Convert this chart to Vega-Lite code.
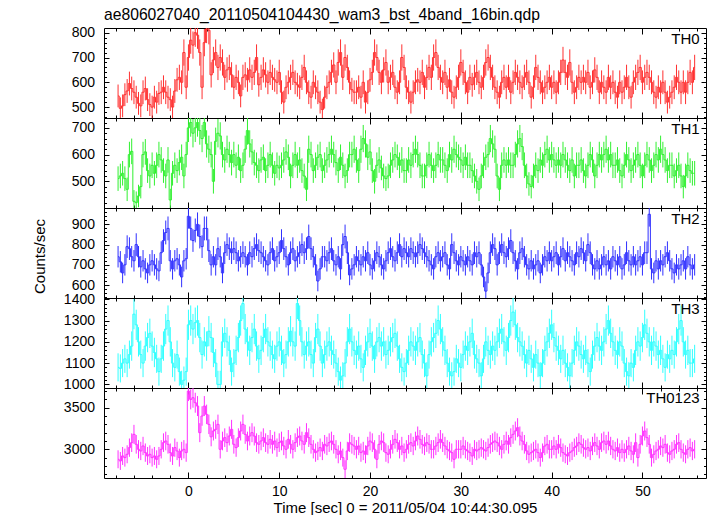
{
"$schema": "https://vega.github.io/schema/vega-lite/v6.json",
"background": "white",
"padding": {"left": 32, "top": 7, "right": 5, "bottom": 0},
"title": {"text": "ae806027040_20110504104430_wam3_bst_4band_16bin.qdp", "anchor": "start", "frame": "group", "fontSize": 15.7, "font": "Liberation Sans", "fontWeight": "normal", "baseline": "alphabetic", "offset": -10, "color": "black"},
"data": {"values": [
{"t":-7.75,"a":545,"ea":46,"b":510,"eb":46,"c":740,"ec":53,"d":1080,"ed":66,"s":2880,"es":108},
{"t":-7.5,"a":495,"ea":44,"b":520,"eb":46,"c":715,"ec":53,"d":1075,"ed":66,"s":2860,"es":108},
{"t":-7.25,"a":505,"ea":46,"b":530,"eb":46,"c":660,"ec":51,"d":1100,"ed":66,"s":2920,"es":108},
{"t":-7,"a":550,"ea":46,"b":510,"eb":46,"c":700,"ec":53,"d":1120,"ed":66,"s":2900,"es":108},
{"t":-6.75,"a":565,"ea":48,"b":470,"eb":44,"c":790,"ec":56,"d":1100,"ed":66,"s":2940,"es":108},
{"t":-6.5,"a":595,"ea":48,"b":600,"eb":48,"c":780,"ec":56,"d":1140,"ed":66,"s":3020,"es":110},
{"t":-6.25,"a":575,"ea":48,"b":612,"eb":48,"c":740,"ec":53,"d":1180,"ed":69,"s":3080,"es":112},
{"t":-6,"a":560,"ea":48,"b":425,"eb":42,"c":720,"ec":53,"d":1330,"ed":71,"s":3180,"es":114},
{"t":-5.75,"a":540,"ea":46,"b":420,"eb":42,"c":800,"ec":56,"d":1280,"ed":71,"s":3060,"es":112},
{"t":-5.5,"a":515,"ea":46,"b":445,"eb":42,"c":740,"ec":53,"d":1200,"ed":69,"s":3000,"es":110},
{"t":-5.25,"a":505,"ea":46,"b":480,"eb":44,"c":690,"ec":53,"d":1140,"ed":66,"s":2980,"es":110},
{"t":-5,"a":560,"ea":48,"b":600,"eb":48,"c":720,"ec":53,"d":1100,"ed":66,"s":3040,"es":110},
{"t":-4.75,"a":575,"ea":48,"b":610,"eb":48,"c":680,"ec":53,"d":1180,"ed":69,"s":2960,"es":110},
{"t":-4.5,"a":530,"ea":46,"b":540,"eb":46,"c":660,"ec":51,"d":1220,"ed":69,"s":2920,"es":108},
{"t":-4.25,"a":510,"ea":46,"b":520,"eb":46,"c":700,"ec":53,"d":1240,"ed":69,"s":2940,"es":108},
{"t":-4,"a":500,"ea":46,"b":560,"eb":48,"c":720,"ec":53,"d":1180,"ed":69,"s":2900,"es":108},
{"t":-3.75,"a":540,"ea":46,"b":530,"eb":46,"c":700,"ec":53,"d":1150,"ed":69,"s":2920,"es":108},
{"t":-3.5,"a":520,"ea":46,"b":560,"eb":48,"c":680,"ec":53,"d":1120,"ed":66,"s":2880,"es":108},
{"t":-3.25,"a":555,"ea":46,"b":600,"eb":48,"c":670,"ec":51,"d":1060,"ed":66,"s":2920,"es":108},
{"t":-3,"a":560,"ea":48,"b":580,"eb":48,"c":760,"ec":56,"d":1120,"ed":66,"s":3000,"es":110},
{"t":-2.75,"a":580,"ea":48,"b":540,"eb":46,"c":820,"ec":56,"d":1180,"ed":69,"s":3080,"es":112},
{"t":-2.5,"a":560,"ea":48,"b":520,"eb":46,"c":860,"ec":59,"d":1260,"ed":71,"s":3100,"es":112},
{"t":-2.25,"a":540,"ea":46,"b":580,"eb":48,"c":880,"ec":59,"d":1300,"ed":71,"s":3060,"es":112},
{"t":-2,"a":530,"ea":46,"b":430,"eb":42,"c":720,"ec":53,"d":1200,"ed":69,"s":2960,"es":110},
{"t":-1.75,"a":500,"ea":46,"b":530,"eb":46,"c":680,"ec":53,"d":1100,"ed":66,"s":2920,"es":108},
{"t":-1.5,"a":565,"ea":48,"b":560,"eb":48,"c":720,"ec":53,"d":1080,"ed":66,"s":3020,"es":110},
{"t":-1.25,"a":610,"ea":48,"b":540,"eb":46,"c":730,"ec":53,"d":1140,"ed":66,"s":2980,"es":110},
{"t":-1,"a":620,"ea":51,"b":570,"eb":48,"c":700,"ec":53,"d":1060,"ed":66,"s":2900,"es":108},
{"t":-0.75,"a":600,"ea":48,"b":590,"eb":48,"c":640,"ec":51,"d":1000,"ed":64,"s":2980,"es":110},
{"t":-0.5,"a":720,"ea":53,"b":520,"eb":46,"c":720,"ec":53,"d":1020,"ed":64,"s":3000,"es":110},
{"t":-0.25,"a":580,"ea":48,"b":600,"eb":48,"c":730,"ec":53,"d":1060,"ed":66,"s":2960,"es":110},
{"t":0,"a":700,"ea":53,"b":700,"eb":53,"c":940,"ec":61,"d":1280,"ed":71,"s":3700,"es":120},
{"t":0.25,"a":770,"ea":55,"b":720,"eb":53,"c":880,"ec":59,"d":1300,"ed":71,"s":3600,"es":120},
{"t":0.5,"a":750,"ea":55,"b":680,"eb":53,"c":820,"ec":56,"d":1260,"ed":71,"s":3620,"es":120},
{"t":0.75,"a":800,"ea":57,"b":700,"eb":53,"c":870,"ec":59,"d":1290,"ed":71,"s":3560,"es":120},
{"t":1,"a":790,"ea":55,"b":720,"eb":53,"c":900,"ec":59,"d":1300,"ed":71,"s":3520,"es":120},
{"t":1.25,"a":720,"ea":53,"b":690,"eb":53,"c":840,"ec":59,"d":1220,"ed":69,"s":3200,"es":114},
{"t":1.5,"a":580,"ea":48,"b":660,"eb":51,"c":790,"ec":56,"d":1140,"ed":66,"s":3400,"es":117},
{"t":1.75,"a":760,"ea":55,"b":720,"eb":53,"c":880,"ec":59,"d":1200,"ed":69,"s":3520,"es":120},
{"t":2,"a":815,"ea":57,"b":640,"eb":51,"c":880,"ec":59,"d":1180,"ed":69,"s":3420,"es":117},
{"t":2.25,"a":810,"ea":57,"b":620,"eb":51,"c":770,"ec":56,"d":1250,"ed":71,"s":3300,"es":117},
{"t":2.5,"a":630,"ea":51,"b":600,"eb":48,"c":700,"ec":53,"d":1220,"ed":69,"s":3150,"es":114},
{"t":2.75,"a":690,"ea":53,"b":500,"eb":46,"c":740,"ec":53,"d":1150,"ed":69,"s":3220,"es":114},
{"t":3,"a":720,"ea":53,"b":650,"eb":51,"c":700,"ec":53,"d":1100,"ed":66,"s":3240,"es":114},
{"t":3.25,"a":660,"ea":51,"b":680,"eb":53,"c":780,"ec":56,"d":1000,"ed":64,"s":3300,"es":117},
{"t":3.5,"a":700,"ea":53,"b":670,"eb":51,"c":740,"ec":53,"d":1000,"ed":64,"s":3000,"es":110},
{"t":3.75,"a":680,"ea":53,"b":600,"eb":48,"c":660,"ec":51,"d":1200,"ed":69,"s":3100,"es":112},
{"t":4,"a":620,"ea":51,"b":580,"eb":48,"c":760,"ec":56,"d":1240,"ed":69,"s":3140,"es":112},
{"t":4.25,"a":650,"ea":51,"b":620,"eb":51,"c":800,"ec":56,"d":1200,"ed":69,"s":3080,"es":112},
{"t":4.5,"a":660,"ea":51,"b":600,"eb":48,"c":780,"ec":56,"d":1160,"ed":69,"s":3160,"es":114},
{"t":4.75,"a":630,"ea":51,"b":570,"eb":48,"c":760,"ec":56,"d":1060,"ed":66,"s":3240,"es":114},
{"t":5,"a":580,"ea":48,"b":600,"eb":48,"c":780,"ec":56,"d":1100,"ed":66,"s":3060,"es":112},
{"t":5.25,"a":620,"ea":51,"b":560,"eb":48,"c":760,"ec":56,"d":1160,"ed":69,"s":3020,"es":110},
{"t":5.5,"a":600,"ea":48,"b":590,"eb":48,"c":720,"ec":53,"d":1220,"ed":69,"s":3140,"es":112},
{"t":5.75,"a":545,"ea":46,"b":540,"eb":46,"c":740,"ec":53,"d":1300,"ed":71,"s":3220,"es":114},
{"t":6,"a":620,"ea":51,"b":560,"eb":48,"c":760,"ec":56,"d":1380,"ed":73,"s":3300,"es":117},
{"t":6.25,"a":630,"ea":51,"b":620,"eb":51,"c":740,"ec":53,"d":1260,"ed":71,"s":3180,"es":114},
{"t":6.5,"a":610,"ea":48,"b":690,"eb":53,"c":700,"ec":53,"d":1200,"ed":69,"s":3100,"es":112},
{"t":6.75,"a":650,"ea":51,"b":640,"eb":51,"c":760,"ec":56,"d":1160,"ed":69,"s":3160,"es":114},
{"t":7,"a":620,"ea":51,"b":610,"eb":48,"c":740,"ec":53,"d":1220,"ed":69,"s":3200,"es":114},
{"t":7.25,"a":640,"ea":51,"b":570,"eb":48,"c":780,"ec":56,"d":1260,"ed":71,"s":3160,"es":114},
{"t":7.5,"a":700,"ea":53,"b":560,"eb":48,"c":800,"ec":56,"d":1180,"ed":69,"s":3080,"es":112},
{"t":7.75,"a":590,"ea":48,"b":540,"eb":46,"c":770,"ec":56,"d":1120,"ed":66,"s":3060,"es":112},
{"t":8,"a":620,"ea":51,"b":580,"eb":48,"c":760,"ec":56,"d":1160,"ed":69,"s":3100,"es":112},
{"t":8.25,"a":650,"ea":51,"b":590,"eb":48,"c":740,"ec":53,"d":1220,"ed":69,"s":3140,"es":112},
{"t":8.5,"a":630,"ea":51,"b":540,"eb":46,"c":720,"ec":53,"d":1260,"ed":71,"s":3080,"es":112},
{"t":8.75,"a":600,"ea":48,"b":560,"eb":48,"c":700,"ec":53,"d":1200,"ed":69,"s":3060,"es":112},
{"t":9,"a":640,"ea":51,"b":600,"eb":48,"c":760,"ec":56,"d":1180,"ed":69,"s":3120,"es":112},
{"t":9.25,"a":620,"ea":51,"b":560,"eb":48,"c":780,"ec":56,"d":1140,"ed":66,"s":3060,"es":112},
{"t":9.5,"a":610,"ea":48,"b":530,"eb":46,"c":720,"ec":53,"d":1120,"ed":66,"s":3100,"es":112},
{"t":9.75,"a":600,"ea":48,"b":560,"eb":48,"c":740,"ec":53,"d":1180,"ed":69,"s":3020,"es":110},
{"t":10,"a":640,"ea":51,"b":550,"eb":46,"c":760,"ec":56,"d":1200,"ed":69,"s":3080,"es":112},
{"t":10.25,"a":560,"ea":48,"b":560,"eb":48,"c":820,"ec":56,"d":1160,"ed":69,"s":3100,"es":112},
{"t":10.5,"a":520,"ea":46,"b":580,"eb":48,"c":780,"ec":56,"d":1100,"ed":66,"s":3040,"es":110},
{"t":10.75,"a":580,"ea":48,"b":610,"eb":48,"c":740,"ec":53,"d":1140,"ed":66,"s":3000,"es":110},
{"t":11,"a":600,"ea":48,"b":590,"eb":48,"c":700,"ec":53,"d":1200,"ed":69,"s":3120,"es":112},
{"t":11.25,"a":620,"ea":51,"b":520,"eb":46,"c":760,"ec":56,"d":1250,"ed":71,"s":3060,"es":112},
{"t":11.5,"a":640,"ea":51,"b":560,"eb":48,"c":780,"ec":56,"d":1200,"ed":69,"s":3000,"es":110},
{"t":11.75,"a":600,"ea":48,"b":600,"eb":48,"c":720,"ec":53,"d":1180,"ed":69,"s":3080,"es":112},
{"t":12,"a":590,"ea":48,"b":560,"eb":48,"c":740,"ec":53,"d":1380,"ed":73,"s":3140,"es":112},
{"t":12.25,"a":580,"ea":48,"b":580,"eb":48,"c":760,"ec":56,"d":1300,"ed":71,"s":3160,"es":114},
{"t":12.5,"a":620,"ea":51,"b":540,"eb":46,"c":800,"ec":56,"d":1200,"ed":69,"s":3100,"es":112},
{"t":12.75,"a":660,"ea":51,"b":520,"eb":46,"c":760,"ec":56,"d":1140,"ed":66,"s":3060,"es":112},
{"t":13,"a":600,"ea":48,"b":470,"eb":44,"c":780,"ec":56,"d":1180,"ed":69,"s":3200,"es":114},
{"t":13.25,"a":560,"ea":48,"b":620,"eb":51,"c":840,"ec":59,"d":1200,"ed":69,"s":3140,"es":112},
{"t":13.5,"a":540,"ea":46,"b":600,"eb":48,"c":780,"ec":56,"d":1140,"ed":66,"s":3060,"es":112},
{"t":13.75,"a":600,"ea":48,"b":540,"eb":46,"c":740,"ec":53,"d":1100,"ed":66,"s":3000,"es":110},
{"t":14,"a":580,"ea":48,"b":560,"eb":48,"c":700,"ec":53,"d":1220,"ed":69,"s":2960,"es":110},
{"t":14.25,"a":560,"ea":48,"b":590,"eb":48,"c":620,"ec":51,"d":1260,"ed":71,"s":2980,"es":110},
{"t":14.5,"a":520,"ea":46,"b":600,"eb":48,"c":680,"ec":53,"d":1180,"ed":69,"s":3020,"es":110},
{"t":14.75,"a":490,"ea":44,"b":540,"eb":46,"c":740,"ec":53,"d":1100,"ed":66,"s":2980,"es":110},
{"t":15,"a":540,"ea":46,"b":560,"eb":48,"c":740,"ec":53,"d":1140,"ed":66,"s":3060,"es":112},
{"t":15.25,"a":580,"ea":48,"b":580,"eb":48,"c":720,"ec":53,"d":1180,"ed":69,"s":3040,"es":110},
{"t":15.5,"a":600,"ea":48,"b":600,"eb":48,"c":760,"ec":56,"d":1200,"ed":69,"s":3080,"es":112},
{"t":15.75,"a":640,"ea":51,"b":620,"eb":51,"c":780,"ec":56,"d":1160,"ed":69,"s":3100,"es":112},
{"t":16,"a":670,"ea":51,"b":600,"eb":48,"c":720,"ec":53,"d":1140,"ed":66,"s":3060,"es":112},
{"t":16.25,"a":600,"ea":48,"b":570,"eb":48,"c":700,"ec":53,"d":1100,"ed":66,"s":3000,"es":110},
{"t":16.5,"a":680,"ea":53,"b":540,"eb":46,"c":740,"ec":53,"d":1060,"ed":66,"s":2940,"es":108},
{"t":16.75,"a":720,"ea":53,"b":590,"eb":48,"c":680,"ec":53,"d":1020,"ed":64,"s":2980,"es":110},
{"t":17,"a":620,"ea":51,"b":560,"eb":48,"c":800,"ec":56,"d":1040,"ed":64,"s":2900,"es":108},
{"t":17.25,"a":700,"ea":53,"b":520,"eb":46,"c":840,"ec":59,"d":1100,"ed":66,"s":2760,"es":108},
{"t":17.5,"a":660,"ea":51,"b":540,"eb":46,"c":760,"ec":56,"d":1200,"ed":69,"s":2980,"es":110},
{"t":17.75,"a":600,"ea":48,"b":600,"eb":48,"c":650,"ec":51,"d":1260,"ed":71,"s":3080,"es":112},
{"t":18,"a":570,"ea":48,"b":600,"eb":48,"c":680,"ec":53,"d":1200,"ed":69,"s":3060,"es":112},
{"t":18.25,"a":560,"ea":48,"b":620,"eb":51,"c":700,"ec":53,"d":1160,"ed":69,"s":3040,"es":110},
{"t":18.5,"a":560,"ea":48,"b":580,"eb":48,"c":740,"ec":53,"d":1140,"ed":66,"s":3000,"es":110},
{"t":18.75,"a":580,"ea":48,"b":540,"eb":46,"c":720,"ec":53,"d":1180,"ed":69,"s":3040,"es":110},
{"t":19,"a":540,"ea":46,"b":620,"eb":51,"c":700,"ec":53,"d":1120,"ed":66,"s":2960,"es":110},
{"t":19.25,"a":600,"ea":48,"b":660,"eb":51,"c":740,"ec":53,"d":1080,"ed":66,"s":2980,"es":110},
{"t":19.5,"a":520,"ea":46,"b":640,"eb":51,"c":720,"ec":53,"d":1160,"ed":69,"s":2940,"es":108},
{"t":19.75,"a":560,"ea":48,"b":590,"eb":48,"c":760,"ec":56,"d":1200,"ed":69,"s":3040,"es":110},
{"t":20,"a":610,"ea":48,"b":610,"eb":48,"c":700,"ec":53,"d":1240,"ed":69,"s":3100,"es":112},
{"t":20.25,"a":640,"ea":51,"b":540,"eb":46,"c":680,"ec":53,"d":1180,"ed":69,"s":3080,"es":112},
{"t":20.5,"a":720,"ea":53,"b":500,"eb":46,"c":720,"ec":53,"d":1120,"ed":66,"s":3000,"es":110},
{"t":20.75,"a":700,"ea":53,"b":560,"eb":48,"c":760,"ec":56,"d":1200,"ed":69,"s":2880,"es":108},
{"t":21,"a":640,"ea":51,"b":580,"eb":48,"c":740,"ec":53,"d":1220,"ed":69,"s":3060,"es":112},
{"t":21.25,"a":600,"ea":48,"b":550,"eb":46,"c":700,"ec":53,"d":1180,"ed":69,"s":3100,"es":112},
{"t":21.5,"a":650,"ea":51,"b":520,"eb":46,"c":680,"ec":53,"d":1200,"ed":69,"s":3080,"es":112},
{"t":21.75,"a":680,"ea":53,"b":510,"eb":46,"c":720,"ec":53,"d":1140,"ed":66,"s":2960,"es":110},
{"t":22,"a":600,"ea":48,"b":520,"eb":46,"c":760,"ec":56,"d":1160,"ed":69,"s":2940,"es":108},
{"t":22.25,"a":620,"ea":51,"b":560,"eb":48,"c":780,"ec":56,"d":1200,"ed":69,"s":3000,"es":110},
{"t":22.5,"a":640,"ea":51,"b":580,"eb":48,"c":740,"ec":53,"d":1220,"ed":69,"s":3060,"es":112},
{"t":22.75,"a":580,"ea":48,"b":600,"eb":48,"c":720,"ec":53,"d":1240,"ed":69,"s":3120,"es":112},
{"t":23,"a":560,"ea":48,"b":590,"eb":48,"c":760,"ec":56,"d":1180,"ed":69,"s":3080,"es":112},
{"t":23.25,"a":600,"ea":48,"b":560,"eb":48,"c":800,"ec":56,"d":1120,"ed":66,"s":3000,"es":110},
{"t":23.5,"a":700,"ea":53,"b":580,"eb":48,"c":740,"ec":53,"d":1080,"ed":66,"s":3040,"es":110},
{"t":23.75,"a":660,"ea":51,"b":540,"eb":46,"c":780,"ec":56,"d":1060,"ed":66,"s":2960,"es":110},
{"t":24,"a":580,"ea":48,"b":540,"eb":46,"c":760,"ec":56,"d":1100,"ed":66,"s":3000,"es":110},
{"t":24.25,"a":560,"ea":48,"b":580,"eb":48,"c":740,"ec":53,"d":1160,"ed":69,"s":3060,"es":112},
{"t":24.5,"a":520,"ea":46,"b":560,"eb":48,"c":780,"ec":56,"d":1200,"ed":69,"s":3080,"es":112},
{"t":24.75,"a":560,"ea":48,"b":600,"eb":48,"c":760,"ec":56,"d":1180,"ed":69,"s":3040,"es":110},
{"t":25,"a":600,"ea":48,"b":620,"eb":51,"c":740,"ec":53,"d":1160,"ed":69,"s":3100,"es":112},
{"t":25.25,"a":610,"ea":48,"b":600,"eb":48,"c":760,"ec":56,"d":1200,"ed":69,"s":3160,"es":114},
{"t":25.5,"a":600,"ea":48,"b":560,"eb":48,"c":800,"ec":56,"d":1220,"ed":69,"s":3120,"es":112},
{"t":25.75,"a":640,"ea":51,"b":520,"eb":46,"c":780,"ec":56,"d":1140,"ed":66,"s":3060,"es":112},
{"t":26,"a":580,"ea":48,"b":520,"eb":46,"c":760,"ec":56,"d":1100,"ed":66,"s":3040,"es":110},
{"t":26.25,"a":620,"ea":51,"b":560,"eb":48,"c":740,"ec":53,"d":1040,"ed":64,"s":3080,"es":112},
{"t":26.5,"a":660,"ea":51,"b":600,"eb":48,"c":720,"ec":53,"d":1140,"ed":66,"s":3060,"es":112},
{"t":26.75,"a":620,"ea":51,"b":560,"eb":48,"c":700,"ec":53,"d":1200,"ed":69,"s":3000,"es":110},
{"t":27,"a":700,"ea":53,"b":540,"eb":46,"c":680,"ec":53,"d":1220,"ed":69,"s":3000,"es":110},
{"t":27.25,"a":720,"ea":53,"b":560,"eb":48,"c":740,"ec":53,"d":1240,"ed":69,"s":3040,"es":110},
{"t":27.5,"a":660,"ea":51,"b":600,"eb":48,"c":760,"ec":56,"d":1300,"ed":71,"s":3080,"es":112},
{"t":27.75,"a":620,"ea":51,"b":580,"eb":48,"c":720,"ec":53,"d":1260,"ed":71,"s":3120,"es":112},
{"t":28,"a":600,"ea":48,"b":580,"eb":48,"c":740,"ec":53,"d":1200,"ed":69,"s":3080,"es":112},
{"t":28.25,"a":640,"ea":51,"b":560,"eb":48,"c":760,"ec":56,"d":1160,"ed":69,"s":3040,"es":110},
{"t":28.5,"a":580,"ea":48,"b":540,"eb":46,"c":700,"ec":53,"d":1100,"ed":66,"s":3000,"es":110},
{"t":28.75,"a":610,"ea":48,"b":600,"eb":48,"c":680,"ec":53,"d":1060,"ed":66,"s":2980,"es":110},
{"t":29,"a":560,"ea":48,"b":580,"eb":48,"c":800,"ec":56,"d":1040,"ed":64,"s":2960,"es":110},
{"t":29.25,"a":540,"ea":46,"b":620,"eb":51,"c":760,"ec":56,"d":1060,"ed":66,"s":2880,"es":108},
{"t":29.5,"a":580,"ea":48,"b":600,"eb":48,"c":720,"ec":53,"d":1120,"ed":66,"s":3000,"es":110},
{"t":29.75,"a":620,"ea":51,"b":590,"eb":48,"c":700,"ec":53,"d":1100,"ed":66,"s":3000,"es":110},
{"t":30,"a":680,"ea":53,"b":580,"eb":48,"c":740,"ec":53,"d":1080,"ed":66,"s":3000,"es":110},
{"t":30.25,"a":640,"ea":51,"b":560,"eb":48,"c":720,"ec":53,"d":1140,"ed":66,"s":3040,"es":110},
{"t":30.5,"a":600,"ea":48,"b":590,"eb":48,"c":700,"ec":53,"d":1180,"ed":69,"s":3000,"es":110},
{"t":30.75,"a":560,"ea":48,"b":560,"eb":48,"c":740,"ec":53,"d":1160,"ed":69,"s":2980,"es":110},
{"t":31,"a":620,"ea":51,"b":560,"eb":48,"c":720,"ec":53,"d":1200,"ed":69,"s":2960,"es":110},
{"t":31.25,"a":590,"ea":48,"b":540,"eb":46,"c":700,"ec":53,"d":1240,"ed":69,"s":2920,"es":108},
{"t":31.5,"a":620,"ea":51,"b":520,"eb":46,"c":760,"ec":56,"d":1140,"ed":66,"s":3000,"es":110},
{"t":31.75,"a":640,"ea":51,"b":500,"eb":46,"c":740,"ec":53,"d":1120,"ed":66,"s":2980,"es":110},
{"t":32,"a":600,"ea":48,"b":470,"eb":44,"c":760,"ec":56,"d":1100,"ed":66,"s":3000,"es":110},
{"t":32.25,"a":580,"ea":48,"b":520,"eb":46,"c":700,"ec":53,"d":1040,"ed":64,"s":3020,"es":110},
{"t":32.5,"a":620,"ea":51,"b":560,"eb":48,"c":640,"ec":51,"d":1120,"ed":66,"s":3000,"es":110},
{"t":32.75,"a":680,"ea":53,"b":590,"eb":48,"c":570,"ec":48,"d":1200,"ed":69,"s":2980,"es":110},
{"t":33,"a":700,"ea":53,"b":600,"eb":48,"c":660,"ec":51,"d":1160,"ed":69,"s":3020,"es":110},
{"t":33.25,"a":660,"ea":51,"b":660,"eb":51,"c":760,"ec":56,"d":1140,"ed":66,"s":3060,"es":112},
{"t":33.5,"a":620,"ea":51,"b":640,"eb":51,"c":800,"ec":56,"d":1180,"ed":69,"s":3080,"es":112},
{"t":33.75,"a":580,"ea":48,"b":620,"eb":51,"c":780,"ec":56,"d":1160,"ed":69,"s":3100,"es":112},
{"t":34,"a":560,"ea":48,"b":520,"eb":46,"c":700,"ec":53,"d":1200,"ed":69,"s":3080,"es":112},
{"t":34.25,"a":540,"ea":46,"b":470,"eb":44,"c":760,"ec":56,"d":1240,"ed":69,"s":3040,"es":110},
{"t":34.5,"a":600,"ea":48,"b":560,"eb":48,"c":800,"ec":56,"d":1260,"ed":71,"s":3000,"es":110},
{"t":34.75,"a":620,"ea":51,"b":580,"eb":48,"c":760,"ec":56,"d":1200,"ed":69,"s":3060,"es":112},
{"t":35,"a":580,"ea":48,"b":560,"eb":48,"c":740,"ec":53,"d":1160,"ed":69,"s":3100,"es":112},
{"t":35.25,"a":620,"ea":51,"b":580,"eb":48,"c":780,"ec":56,"d":1220,"ed":69,"s":3060,"es":112},
{"t":35.5,"a":560,"ea":48,"b":560,"eb":48,"c":820,"ec":56,"d":1300,"ed":71,"s":3140,"es":112},
{"t":35.75,"a":600,"ea":48,"b":560,"eb":48,"c":760,"ec":56,"d":1340,"ed":71,"s":3180,"es":114},
{"t":36,"a":640,"ea":51,"b":600,"eb":48,"c":720,"ec":53,"d":1280,"ed":71,"s":3220,"es":114},
{"t":36.25,"a":620,"ea":51,"b":640,"eb":51,"c":680,"ec":53,"d":1220,"ed":69,"s":3260,"es":114},
{"t":36.5,"a":600,"ea":48,"b":660,"eb":51,"c":760,"ec":56,"d":1200,"ed":69,"s":3160,"es":114},
{"t":36.75,"a":580,"ea":48,"b":630,"eb":51,"c":780,"ec":56,"d":1180,"ed":69,"s":3100,"es":112},
{"t":37,"a":620,"ea":51,"b":560,"eb":48,"c":740,"ec":53,"d":1140,"ed":66,"s":3060,"es":112},
{"t":37.25,"a":640,"ea":51,"b":520,"eb":46,"c":700,"ec":53,"d":1100,"ed":66,"s":2980,"es":110},
{"t":37.5,"a":600,"ea":48,"b":490,"eb":44,"c":680,"ec":53,"d":1160,"ed":69,"s":2940,"es":108},
{"t":37.75,"a":540,"ea":46,"b":480,"eb":44,"c":720,"ec":53,"d":1120,"ed":66,"s":2960,"es":110},
{"t":38,"a":580,"ea":48,"b":520,"eb":46,"c":680,"ec":53,"d":1080,"ed":66,"s":2980,"es":110},
{"t":38.25,"a":660,"ea":51,"b":560,"eb":48,"c":700,"ec":53,"d":1140,"ed":66,"s":3000,"es":110},
{"t":38.5,"a":620,"ea":51,"b":540,"eb":46,"c":720,"ec":53,"d":1100,"ed":66,"s":2960,"es":110},
{"t":38.75,"a":600,"ea":48,"b":580,"eb":48,"c":660,"ec":51,"d":1040,"ed":64,"s":2900,"es":108},
{"t":39,"a":560,"ea":48,"b":560,"eb":48,"c":700,"ec":53,"d":1100,"ed":66,"s":2960,"es":110},
{"t":39.25,"a":580,"ea":48,"b":600,"eb":48,"c":740,"ec":53,"d":1160,"ed":69,"s":3040,"es":110},
{"t":39.5,"a":600,"ea":48,"b":620,"eb":51,"c":720,"ec":53,"d":1200,"ed":69,"s":3060,"es":112},
{"t":39.75,"a":620,"ea":51,"b":580,"eb":48,"c":760,"ec":56,"d":1240,"ed":69,"s":3000,"es":110},
{"t":40,"a":580,"ea":48,"b":600,"eb":48,"c":720,"ec":53,"d":1280,"ed":71,"s":3000,"es":110},
{"t":40.25,"a":600,"ea":48,"b":580,"eb":48,"c":740,"ec":53,"d":1220,"ed":69,"s":3040,"es":110},
{"t":40.5,"a":560,"ea":48,"b":560,"eb":48,"c":760,"ec":56,"d":1180,"ed":69,"s":3000,"es":110},
{"t":40.75,"a":600,"ea":48,"b":580,"eb":48,"c":700,"ec":53,"d":1160,"ed":69,"s":3060,"es":112},
{"t":41,"a":640,"ea":51,"b":560,"eb":48,"c":740,"ec":53,"d":1120,"ed":66,"s":3020,"es":110},
{"t":41.25,"a":690,"ea":53,"b":600,"eb":48,"c":780,"ec":56,"d":1160,"ed":69,"s":2960,"es":110},
{"t":41.5,"a":640,"ea":51,"b":580,"eb":48,"c":720,"ec":53,"d":1100,"ed":66,"s":2940,"es":108},
{"t":41.75,"a":620,"ea":51,"b":560,"eb":48,"c":760,"ec":56,"d":1080,"ed":66,"s":2920,"es":108},
{"t":42,"a":680,"ea":53,"b":540,"eb":46,"c":740,"ec":53,"d":1040,"ed":64,"s":2960,"es":110},
{"t":42.25,"a":600,"ea":48,"b":580,"eb":48,"c":720,"ec":53,"d":1100,"ed":66,"s":2980,"es":110},
{"t":42.5,"a":560,"ea":48,"b":520,"eb":46,"c":700,"ec":53,"d":1160,"ed":69,"s":3020,"es":110},
{"t":42.75,"a":580,"ea":48,"b":560,"eb":48,"c":760,"ec":56,"d":1200,"ed":69,"s":3040,"es":110},
{"t":43,"a":620,"ea":51,"b":560,"eb":48,"c":740,"ec":53,"d":1180,"ed":69,"s":3080,"es":112},
{"t":43.25,"a":600,"ea":48,"b":580,"eb":48,"c":780,"ec":56,"d":1140,"ed":66,"s":3060,"es":112},
{"t":43.5,"a":620,"ea":51,"b":540,"eb":46,"c":760,"ec":56,"d":1120,"ed":66,"s":3020,"es":110},
{"t":43.75,"a":600,"ea":48,"b":520,"eb":46,"c":720,"ec":53,"d":1160,"ed":69,"s":3000,"es":110},
{"t":44,"a":640,"ea":51,"b":560,"eb":48,"c":800,"ec":56,"d":1100,"ed":66,"s":3020,"es":110},
{"t":44.25,"a":580,"ea":48,"b":600,"eb":48,"c":760,"ec":56,"d":1060,"ed":66,"s":2980,"es":110},
{"t":44.5,"a":600,"ea":48,"b":580,"eb":48,"c":700,"ec":53,"d":1140,"ed":66,"s":3040,"es":110},
{"t":44.75,"a":650,"ea":51,"b":520,"eb":46,"c":680,"ec":53,"d":1180,"ed":69,"s":3080,"es":112},
{"t":45,"a":620,"ea":51,"b":560,"eb":48,"c":720,"ec":53,"d":1220,"ed":69,"s":3040,"es":110},
{"t":45.25,"a":560,"ea":48,"b":600,"eb":48,"c":680,"ec":53,"d":1180,"ed":69,"s":3000,"es":110},
{"t":45.5,"a":600,"ea":48,"b":580,"eb":48,"c":700,"ec":53,"d":1160,"ed":69,"s":3080,"es":112},
{"t":45.75,"a":580,"ea":48,"b":600,"eb":48,"c":740,"ec":53,"d":1200,"ed":69,"s":3100,"es":112},
{"t":46,"a":560,"ea":48,"b":620,"eb":51,"c":700,"ec":53,"d":1260,"ed":71,"s":3060,"es":112},
{"t":46.25,"a":620,"ea":51,"b":580,"eb":48,"c":720,"ec":53,"d":1300,"ed":71,"s":3100,"es":112},
{"t":46.5,"a":580,"ea":48,"b":600,"eb":48,"c":680,"ec":53,"d":1240,"ed":69,"s":3040,"es":110},
{"t":46.75,"a":600,"ea":48,"b":560,"eb":48,"c":740,"ec":53,"d":1200,"ed":69,"s":3000,"es":110},
{"t":47,"a":560,"ea":48,"b":560,"eb":48,"c":720,"ec":53,"d":1160,"ed":69,"s":2980,"es":110},
{"t":47.25,"a":540,"ea":46,"b":580,"eb":48,"c":700,"ec":53,"d":1140,"ed":66,"s":3020,"es":110},
{"t":47.5,"a":600,"ea":48,"b":540,"eb":46,"c":740,"ec":53,"d":1200,"ed":69,"s":2960,"es":110},
{"t":47.75,"a":560,"ea":48,"b":520,"eb":46,"c":680,"ec":53,"d":1180,"ed":69,"s":3000,"es":110},
{"t":48,"a":580,"ea":48,"b":560,"eb":48,"c":700,"ec":53,"d":1100,"ed":66,"s":2960,"es":110},
{"t":48.25,"a":620,"ea":51,"b":600,"eb":48,"c":760,"ec":56,"d":1060,"ed":66,"s":3000,"es":110},
{"t":48.5,"a":580,"ea":48,"b":580,"eb":48,"c":720,"ec":53,"d":1040,"ed":64,"s":3040,"es":110},
{"t":48.75,"a":540,"ea":46,"b":540,"eb":46,"c":700,"ec":53,"d":1100,"ed":66,"s":2980,"es":110},
{"t":49,"a":600,"ea":48,"b":560,"eb":48,"c":740,"ec":53,"d":1080,"ed":66,"s":2940,"es":108},
{"t":49.25,"a":620,"ea":51,"b":580,"eb":48,"c":700,"ec":53,"d":1160,"ed":69,"s":3080,"es":112},
{"t":49.5,"a":640,"ea":51,"b":600,"eb":48,"c":720,"ec":53,"d":1200,"ed":69,"s":2900,"es":108},
{"t":49.75,"a":660,"ea":51,"b":560,"eb":48,"c":740,"ec":53,"d":1180,"ed":69,"s":3060,"es":112},
{"t":50,"a":600,"ea":48,"b":520,"eb":46,"c":700,"ec":53,"d":1220,"ed":69,"s":3160,"es":114},
{"t":50.25,"a":620,"ea":51,"b":560,"eb":48,"c":760,"ec":56,"d":1280,"ed":71,"s":3220,"es":114},
{"t":50.5,"a":640,"ea":51,"b":600,"eb":48,"c":760,"ec":56,"d":1240,"ed":69,"s":3140,"es":112},
{"t":50.75,"a":620,"ea":51,"b":580,"eb":48,"c":950,"ec":61,"d":1200,"ed":69,"s":3060,"es":112},
{"t":51,"a":600,"ea":48,"b":540,"eb":46,"c":680,"ec":53,"d":1160,"ed":69,"s":2900,"es":108},
{"t":51.25,"a":560,"ea":48,"b":560,"eb":48,"c":660,"ec":51,"d":1200,"ed":69,"s":2940,"es":108},
{"t":51.5,"a":540,"ea":46,"b":600,"eb":48,"c":720,"ec":53,"d":1180,"ed":69,"s":2980,"es":110},
{"t":51.75,"a":580,"ea":48,"b":580,"eb":48,"c":680,"ec":53,"d":1140,"ed":66,"s":3000,"es":110},
{"t":52,"a":560,"ea":48,"b":620,"eb":51,"c":720,"ec":53,"d":1160,"ed":69,"s":3040,"es":110},
{"t":52.25,"a":600,"ea":48,"b":600,"eb":48,"c":700,"ec":53,"d":1120,"ed":66,"s":3020,"es":110},
{"t":52.5,"a":560,"ea":48,"b":580,"eb":48,"c":740,"ec":53,"d":1080,"ed":66,"s":3060,"es":112},
{"t":52.75,"a":520,"ea":46,"b":540,"eb":46,"c":760,"ec":56,"d":1140,"ed":66,"s":2960,"es":110},
{"t":53,"a":540,"ea":46,"b":560,"eb":48,"c":720,"ec":53,"d":1120,"ed":66,"s":2940,"es":108},
{"t":53.25,"a":560,"ea":48,"b":560,"eb":48,"c":680,"ec":53,"d":1160,"ed":69,"s":2980,"es":110},
{"t":53.5,"a":580,"ea":48,"b":520,"eb":46,"c":660,"ec":51,"d":1140,"ed":66,"s":3000,"es":110},
{"t":53.75,"a":620,"ea":51,"b":540,"eb":46,"c":700,"ec":53,"d":1200,"ed":69,"s":3060,"es":112},
{"t":54,"a":600,"ea":48,"b":560,"eb":48,"c":680,"ec":53,"d":1260,"ed":71,"s":3080,"es":112},
{"t":54.25,"a":560,"ea":48,"b":520,"eb":46,"c":700,"ec":53,"d":1300,"ed":71,"s":3000,"es":110},
{"t":54.5,"a":600,"ea":48,"b":480,"eb":44,"c":720,"ec":53,"d":1200,"ed":69,"s":2960,"es":110},
{"t":54.75,"a":560,"ea":48,"b":520,"eb":46,"c":680,"ec":53,"d":1140,"ed":66,"s":2940,"es":108},
{"t":55,"a":600,"ea":48,"b":560,"eb":48,"c":740,"ec":53,"d":1160,"ed":69,"s":3000,"es":110},
{"t":55.25,"a":640,"ea":51,"b":540,"eb":46,"c":700,"ec":53,"d":1100,"ed":66,"s":3020,"es":110},
{"t":55.5,"a":600,"ea":48,"b":530,"eb":46,"c":680,"ec":53,"d":1100,"ed":66,"s":2980,"es":110},
{"t":55.75,"a":660,"ea":51,"b":530,"eb":46,"c":700,"ec":53,"d":1120,"ed":66,"s":3000,"es":110}
]},
"spacing": 0,
"bounds": "flush",
"vconcat": [
{
 "width": 602, "height": 90,
 "layer": [
  {"mark": {"type": "errorbar", "color": "#ff3030", "thickness": 1, "clip": true},
   "encoding": {
    "x": {"field": "t", "type": "quantitative", "scale": {"domain": [-9.3, 57], "nice": false, "zero": false}, "axis": {"orient": "bottom", "values": [0,10,20,30,40,50], "labels": false, "tickSize": -6, "title": null}},
    "y": {"field": "a", "type": "quantitative", "scale": {"domain": [456, 819], "nice": false, "zero": false}, "axis": {"orient": "left", "values": [500,600,700,800], "format": "d", "tickSize": -5, "labelPadding": 14.5, "title": null}},
    "yError": {"field": "ea"}}},
  {"mark": {"type": "line", "interpolate": "step", "color": "#ff3030", "strokeWidth": 1, "clip": true},
   "encoding": {
    "x": {"field": "t", "type": "quantitative", "scale": {"domain": [-9.3, 57], "nice": false, "zero": false}, "axis": {"orient": "top", "values": [0,10,20,30,40,50], "labels": false, "tickSize": -6, "title": null}},
    "y": {"field": "a", "type": "quantitative", "scale": {"domain": [456, 819], "nice": false, "zero": false}, "axis": {"orient": "right", "values": [500,600,700,800], "labels": false, "tickSize": -5, "title": null}}}},
  {"mark": {"type": "point", "opacity": 0},
   "encoding": {
    "x": {"field": "t", "type": "quantitative", "scale": {"domain": [-9.3, 57], "nice": false, "zero": false}, "axis": {"orient": "bottom", "values": [-8,-6,-4,-2,0,2,4,6,8,10,12,14,16,18,20,22,24,26,28,30,32,34,36,38,40,42,44,46,48,50,52,54,56], "labels": false, "tickSize": -3, "domain": false, "title": null}},
    "y": {"field": "a", "type": "quantitative", "scale": {"domain": [456, 819], "nice": false, "zero": false}, "axis": {"orient": "left", "values": [460,480,500,520,540,560,580,600,620,640,660,680,700,720,740,760,780,800], "labels": false, "tickSize": -2.5, "domain": false, "title": null}}}},
  {"mark": {"type": "point", "opacity": 0},
   "encoding": {
    "x": {"field": "t", "type": "quantitative", "scale": {"domain": [-9.3, 57], "nice": false, "zero": false}, "axis": {"orient": "top", "values": [-8,-6,-4,-2,0,2,4,6,8,10,12,14,16,18,20,22,24,26,28,30,32,34,36,38,40,42,44,46,48,50,52,54,56], "labels": false, "tickSize": -3, "domain": false, "title": null}},
    "y": {"field": "a", "type": "quantitative", "scale": {"domain": [456, 819], "nice": false, "zero": false}, "axis": {"orient": "right", "values": [460,480,500,520,540,560,580,600,620,640,660,680,700,720,740,760,780,800], "labels": false, "tickSize": -2.5, "domain": false, "title": null}}}},
  {"data": {"values": [{}]},
   "mark": {"type": "text", "text": "TH0", "align": "right", "baseline": "alphabetic", "fontSize": 15, "font": "Liberation Sans", "color": "black"},
   "encoding": {
    "x": {"datum": 56.3, "type": "quantitative", "scale": {"domain": [-9.3, 57], "nice": false, "zero": false}, "axis": null},
    "y": {"datum": 754, "type": "quantitative", "scale": {"domain": [456, 819], "nice": false, "zero": false}, "axis": null}}}
 ],
 "resolve": {"axis": {"x": "independent", "y": "independent"}}
},
{
 "width": 602, "height": 90,
 "layer": [
  {"mark": {"type": "errorbar", "color": "#30f030", "thickness": 1, "clip": true},
   "encoding": {
    "x": {"field": "t", "type": "quantitative", "scale": {"domain": [-9.3, 57], "nice": false, "zero": false}, "axis": {"orient": "bottom", "values": [0,10,20,30,40,50], "labels": false, "tickSize": -6, "title": null}},
    "y": {"field": "b", "type": "quantitative", "scale": {"domain": [400, 737], "nice": false, "zero": false}, "axis": {"orient": "left", "values": [500,600,700], "format": "d", "tickSize": -5, "labelPadding": 14.5, "title": null}},
    "yError": {"field": "eb"}}},
  {"mark": {"type": "line", "interpolate": "step", "color": "#30f030", "strokeWidth": 1, "clip": true},
   "encoding": {
    "x": {"field": "t", "type": "quantitative", "scale": {"domain": [-9.3, 57], "nice": false, "zero": false}, "axis": {"orient": "top", "values": [0,10,20,30,40,50], "labels": false, "tickSize": -6, "title": null}},
    "y": {"field": "b", "type": "quantitative", "scale": {"domain": [400, 737], "nice": false, "zero": false}, "axis": {"orient": "right", "values": [500,600,700], "labels": false, "tickSize": -5, "title": null}}}},
  {"mark": {"type": "point", "opacity": 0},
   "encoding": {
    "x": {"field": "t", "type": "quantitative", "scale": {"domain": [-9.3, 57], "nice": false, "zero": false}, "axis": {"orient": "bottom", "values": [-8,-6,-4,-2,0,2,4,6,8,10,12,14,16,18,20,22,24,26,28,30,32,34,36,38,40,42,44,46,48,50,52,54,56], "labels": false, "tickSize": -3, "domain": false, "title": null}},
    "y": {"field": "b", "type": "quantitative", "scale": {"domain": [400, 737], "nice": false, "zero": false}, "axis": {"orient": "left", "values": [420,440,460,480,500,520,540,560,580,600,620,640,660,680,700,720], "labels": false, "tickSize": -2.5, "domain": false, "title": null}}}},
  {"mark": {"type": "point", "opacity": 0},
   "encoding": {
    "x": {"field": "t", "type": "quantitative", "scale": {"domain": [-9.3, 57], "nice": false, "zero": false}, "axis": {"orient": "top", "values": [-8,-6,-4,-2,0,2,4,6,8,10,12,14,16,18,20,22,24,26,28,30,32,34,36,38,40,42,44,46,48,50,52,54,56], "labels": false, "tickSize": -3, "domain": false, "title": null}},
    "y": {"field": "b", "type": "quantitative", "scale": {"domain": [400, 737], "nice": false, "zero": false}, "axis": {"orient": "right", "values": [420,440,460,480,500,520,540,560,580,600,620,640,660,680,700,720], "labels": false, "tickSize": -2.5, "domain": false, "title": null}}}},
  {"data": {"values": [{}]},
   "mark": {"type": "text", "text": "TH1", "align": "right", "baseline": "alphabetic", "fontSize": 15, "font": "Liberation Sans", "color": "black"},
   "encoding": {
    "x": {"datum": 56.3, "type": "quantitative", "scale": {"domain": [-9.3, 57], "nice": false, "zero": false}, "axis": null},
    "y": {"datum": 677, "type": "quantitative", "scale": {"domain": [400, 737], "nice": false, "zero": false}, "axis": null}}}
 ],
 "resolve": {"axis": {"x": "independent", "y": "independent"}}
},
{
 "width": 602, "height": 90,
 "layer": [
  {"mark": {"type": "errorbar", "color": "#3030ff", "thickness": 1, "clip": true},
   "encoding": {
    "x": {"field": "t", "type": "quantitative", "scale": {"domain": [-9.3, 57], "nice": false, "zero": false}, "axis": {"orient": "bottom", "values": [0,10,20,30,40,50], "labels": false, "tickSize": -6, "title": null}},
    "y": {"field": "c", "type": "quantitative", "scale": {"domain": [536, 981], "nice": false, "zero": false}, "axis": {"orient": "left", "values": [600,700,800,900], "format": "d", "tickSize": -5, "labelPadding": 14.5, "title": "Counts/sec", "titleX": -65, "titleY": 48, "titleAngle": 270, "titleBaseline": "middle", "titleAlign": "center"}},
    "yError": {"field": "ec"}}},
  {"mark": {"type": "line", "interpolate": "step", "color": "#3030ff", "strokeWidth": 1, "clip": true},
   "encoding": {
    "x": {"field": "t", "type": "quantitative", "scale": {"domain": [-9.3, 57], "nice": false, "zero": false}, "axis": {"orient": "top", "values": [0,10,20,30,40,50], "labels": false, "tickSize": -6, "title": null}},
    "y": {"field": "c", "type": "quantitative", "scale": {"domain": [536, 981], "nice": false, "zero": false}, "axis": {"orient": "right", "values": [600,700,800,900], "labels": false, "tickSize": -5, "title": null}}}},
  {"mark": {"type": "point", "opacity": 0},
   "encoding": {
    "x": {"field": "t", "type": "quantitative", "scale": {"domain": [-9.3, 57], "nice": false, "zero": false}, "axis": {"orient": "bottom", "values": [-8,-6,-4,-2,0,2,4,6,8,10,12,14,16,18,20,22,24,26,28,30,32,34,36,38,40,42,44,46,48,50,52,54,56], "labels": false, "tickSize": -3, "domain": false, "title": null}},
    "y": {"field": "c", "type": "quantitative", "scale": {"domain": [536, 981], "nice": false, "zero": false}, "axis": {"orient": "left", "values": [540,560,580,600,620,640,660,680,700,720,740,760,780,800,820,840,860,880,900,920,940,960,980], "labels": false, "tickSize": -2.5, "domain": false, "title": null}}}},
  {"mark": {"type": "point", "opacity": 0},
   "encoding": {
    "x": {"field": "t", "type": "quantitative", "scale": {"domain": [-9.3, 57], "nice": false, "zero": false}, "axis": {"orient": "top", "values": [-8,-6,-4,-2,0,2,4,6,8,10,12,14,16,18,20,22,24,26,28,30,32,34,36,38,40,42,44,46,48,50,52,54,56], "labels": false, "tickSize": -3, "domain": false, "title": null}},
    "y": {"field": "c", "type": "quantitative", "scale": {"domain": [536, 981], "nice": false, "zero": false}, "axis": {"orient": "right", "values": [540,560,580,600,620,640,660,680,700,720,740,760,780,800,820,840,860,880,900,920,940,960,980], "labels": false, "tickSize": -2.5, "domain": false, "title": null}}}},
  {"data": {"values": [{}]},
   "mark": {"type": "text", "text": "TH2", "align": "right", "baseline": "alphabetic", "fontSize": 15, "font": "Liberation Sans", "color": "black"},
   "encoding": {
    "x": {"datum": 56.3, "type": "quantitative", "scale": {"domain": [-9.3, 57], "nice": false, "zero": false}, "axis": null},
    "y": {"datum": 902, "type": "quantitative", "scale": {"domain": [536, 981], "nice": false, "zero": false}, "axis": null}}}
 ],
 "resolve": {"axis": {"x": "independent", "y": "independent"}}
},
{
 "width": 602, "height": 90,
 "layer": [
  {"mark": {"type": "errorbar", "color": "#30ffff", "thickness": 1, "clip": true},
   "encoding": {
    "x": {"field": "t", "type": "quantitative", "scale": {"domain": [-9.3, 57], "nice": false, "zero": false}, "axis": {"orient": "bottom", "values": [0,10,20,30,40,50], "labels": false, "tickSize": -6, "title": null}},
    "y": {"field": "d", "type": "quantitative", "scale": {"domain": [983, 1406], "nice": false, "zero": false}, "axis": {"orient": "left", "values": [1000,1100,1200,1300,1400], "format": "d", "tickSize": -5, "labelPadding": 14.5, "title": null}},
    "yError": {"field": "ed"}}},
  {"mark": {"type": "line", "interpolate": "step", "color": "#30ffff", "strokeWidth": 1, "clip": true},
   "encoding": {
    "x": {"field": "t", "type": "quantitative", "scale": {"domain": [-9.3, 57], "nice": false, "zero": false}, "axis": {"orient": "top", "values": [0,10,20,30,40,50], "labels": false, "tickSize": -6, "title": null}},
    "y": {"field": "d", "type": "quantitative", "scale": {"domain": [983, 1406], "nice": false, "zero": false}, "axis": {"orient": "right", "values": [1000,1100,1200,1300,1400], "labels": false, "tickSize": -5, "title": null}}}},
  {"mark": {"type": "point", "opacity": 0},
   "encoding": {
    "x": {"field": "t", "type": "quantitative", "scale": {"domain": [-9.3, 57], "nice": false, "zero": false}, "axis": {"orient": "bottom", "values": [-8,-6,-4,-2,0,2,4,6,8,10,12,14,16,18,20,22,24,26,28,30,32,34,36,38,40,42,44,46,48,50,52,54,56], "labels": false, "tickSize": -3, "domain": false, "title": null}},
    "y": {"field": "d", "type": "quantitative", "scale": {"domain": [983, 1406], "nice": false, "zero": false}, "axis": {"orient": "left", "values": [1000,1020,1040,1060,1080,1100,1120,1140,1160,1180,1200,1220,1240,1260,1280,1300,1320,1340,1360,1380,1400], "labels": false, "tickSize": -2.5, "domain": false, "title": null}}}},
  {"mark": {"type": "point", "opacity": 0},
   "encoding": {
    "x": {"field": "t", "type": "quantitative", "scale": {"domain": [-9.3, 57], "nice": false, "zero": false}, "axis": {"orient": "top", "values": [-8,-6,-4,-2,0,2,4,6,8,10,12,14,16,18,20,22,24,26,28,30,32,34,36,38,40,42,44,46,48,50,52,54,56], "labels": false, "tickSize": -3, "domain": false, "title": null}},
    "y": {"field": "d", "type": "quantitative", "scale": {"domain": [983, 1406], "nice": false, "zero": false}, "axis": {"orient": "right", "values": [1000,1020,1040,1060,1080,1100,1120,1140,1160,1180,1200,1220,1240,1260,1280,1300,1320,1340,1360,1380,1400], "labels": false, "tickSize": -2.5, "domain": false, "title": null}}}},
  {"data": {"values": [{}]},
   "mark": {"type": "text", "text": "TH3", "align": "right", "baseline": "alphabetic", "fontSize": 15, "font": "Liberation Sans", "color": "black"},
   "encoding": {
    "x": {"datum": 56.3, "type": "quantitative", "scale": {"domain": [-9.3, 57], "nice": false, "zero": false}, "axis": null},
    "y": {"datum": 1331, "type": "quantitative", "scale": {"domain": [983, 1406], "nice": false, "zero": false}, "axis": null}}}
 ],
 "resolve": {"axis": {"x": "independent", "y": "independent"}}
},
{
 "width": 602, "height": 90,
 "layer": [
  {"mark": {"type": "errorbar", "color": "#ff30ff", "thickness": 1, "clip": true},
   "encoding": {
    "x": {"field": "t", "type": "quantitative", "scale": {"domain": [-9.3, 57], "nice": false, "zero": false}, "axis": {"orient": "bottom", "values": [0,10,20,30,40,50], "tickSize": -6, "labelPadding": 12, "title": "Time [sec] 0 = 2011/05/04 10:44:30.095", "titlePadding": 2}},
    "y": {"field": "s", "type": "quantitative", "scale": {"domain": [2655, 3737], "nice": false, "zero": false}, "axis": {"orient": "left", "values": [3000,3500], "format": "d", "tickSize": -5, "labelPadding": 14.5, "title": null}},
    "yError": {"field": "es"}}},
  {"mark": {"type": "line", "interpolate": "step", "color": "#ff30ff", "strokeWidth": 1, "clip": true},
   "encoding": {
    "x": {"field": "t", "type": "quantitative", "scale": {"domain": [-9.3, 57], "nice": false, "zero": false}, "axis": {"orient": "top", "values": [0,10,20,30,40,50], "labels": false, "tickSize": -6, "title": null}},
    "y": {"field": "s", "type": "quantitative", "scale": {"domain": [2655, 3737], "nice": false, "zero": false}, "axis": {"orient": "right", "values": [3000,3500], "labels": false, "tickSize": -5, "title": null}}}},
  {"mark": {"type": "point", "opacity": 0},
   "encoding": {
    "x": {"field": "t", "type": "quantitative", "scale": {"domain": [-9.3, 57], "nice": false, "zero": false}, "axis": {"orient": "bottom", "values": [-8,-6,-4,-2,0,2,4,6,8,10,12,14,16,18,20,22,24,26,28,30,32,34,36,38,40,42,44,46,48,50,52,54,56], "labels": false, "tickSize": -3, "domain": false, "title": null}},
    "y": {"field": "s", "type": "quantitative", "scale": {"domain": [2655, 3737], "nice": false, "zero": false}, "axis": {"orient": "left", "values": [2700,2800,2900,3000,3100,3200,3300,3400,3500,3600,3700], "labels": false, "tickSize": -2.5, "domain": false, "title": null}}}},
  {"mark": {"type": "point", "opacity": 0},
   "encoding": {
    "x": {"field": "t", "type": "quantitative", "scale": {"domain": [-9.3, 57], "nice": false, "zero": false}, "axis": {"orient": "top", "values": [-8,-6,-4,-2,0,2,4,6,8,10,12,14,16,18,20,22,24,26,28,30,32,34,36,38,40,42,44,46,48,50,52,54,56], "labels": false, "tickSize": -3, "domain": false, "title": null}},
    "y": {"field": "s", "type": "quantitative", "scale": {"domain": [2655, 3737], "nice": false, "zero": false}, "axis": {"orient": "right", "values": [2700,2800,2900,3000,3100,3200,3300,3400,3500,3600,3700], "labels": false, "tickSize": -2.5, "domain": false, "title": null}}}},
  {"data": {"values": [{}]},
   "mark": {"type": "text", "text": "TH0123", "align": "right", "baseline": "alphabetic", "fontSize": 15, "font": "Liberation Sans", "color": "black"},
   "encoding": {
    "x": {"datum": 56.3, "type": "quantitative", "scale": {"domain": [-9.3, 57], "nice": false, "zero": false}, "axis": null},
    "y": {"datum": 3560, "type": "quantitative", "scale": {"domain": [2655, 3737], "nice": false, "zero": false}, "axis": null}}}
 ],
 "resolve": {"axis": {"x": "independent", "y": "independent"}}
}
],
"config": {
 "view": {"stroke": null},
 "axis": {"grid": false, "domainColor": "black", "tickColor": "black", "labelColor": "black", "titleColor": "black", "labelFont": "Liberation Sans", "titleFont": "Liberation Sans", "labelFontSize": 14, "titleFontSize": 15, "titleFontWeight": "normal", "labelFlush": false, "labelOverlap": false, "domainWidth": 1, "tickWidth": 1}
}
}
